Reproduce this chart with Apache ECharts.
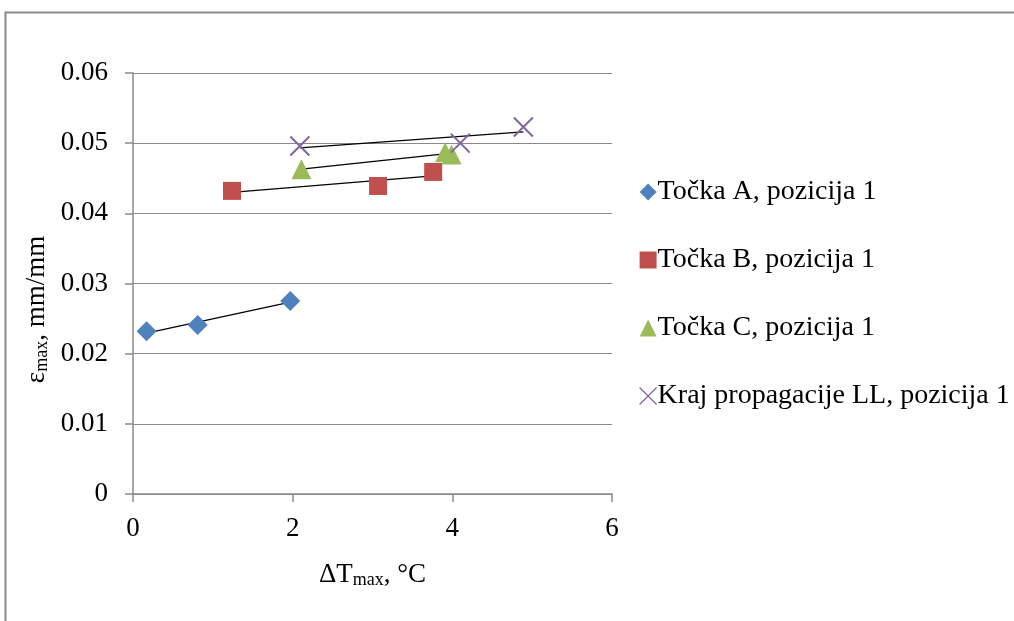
<!DOCTYPE html>
<html>
<head>
<meta charset="utf-8">
<script src="https://cdn.jsdelivr.net/npm/echarts@6/dist/echarts.min.js"></script>
<style>
  html, body { margin: 0; padding: 0; background: #fff; }
  #chart { width: 1014px; height: 621px; }
</style>
</head>
<body>
<div id="chart"></div>
<script>
// podaci ocitani sa slike
var seriesNames = ['Točka A, pozicija 1', 'Točka B, pozicija 1', 'Točka C, pozicija 1', 'Kraj propagacije LL, pozicija 1'];

var tockaA_x = [0.17, 0.81, 1.97];
var tockaA_y = [0.0232, 0.0241, 0.0275];

var tockaB_x = [1.24, 3.07, 3.76];
var tockaB_y = [0.0432, 0.0439, 0.0459];

var tockaC_x = [2.11, 3.91, 3.99];
var tockaC_y = [0.0463, 0.0487, 0.0484];

var krajLL_x = [2.09, 4.10, 4.89];
var krajLL_y = [0.0496, 0.0500, 0.0523];

var xTicks = [0, 2, 4, 6];
var yTicks = [0, 0.01, 0.02, 0.03, 0.04, 0.05, 0.06];

var colors = ['#4F81BD', '#C0504D', '#9BBB59', '#8064A2'];
var fontFam = "'Liberation Serif', 'Times New Roman', serif";
var crossPath = 'path://M0,0L10,10M10,0L0,10';

function pairs(xs, ys) {
  return xs.map(function (x, i) { return [x, ys[i]]; });
}

/** linearni trend (najmanji kvadrati) izmedju min i max x */
function trendLine(xs, ys) {
  var n = xs.length, sx = 0, sy = 0, sxy = 0, sxx = 0;
  for (var i = 0; i < n; i++) {
    sx += xs[i]; sy += ys[i]; sxy += xs[i] * ys[i]; sxx += xs[i] * xs[i];
  }
  var b = (n * sxy - sx * sy) / (n * sxx - sx * sx);
  var a = (sy - b * sx) / n;
  var x0 = Math.min.apply(null, xs), x1 = Math.max.apply(null, xs);
  return [[x0, a + b * x0], [x1, a + b * x1]];
}

var allX = [tockaA_x, tockaB_x, tockaC_x, krajLL_x];
var allY = [tockaA_y, tockaB_y, tockaC_y, krajLL_y];
var symbols = ['diamond', 'rect', 'triangle', crossPath];
var sizes = [20, 18, 20, 19];

var series = [];
// trend linije ispod markera
allX.forEach(function (xs, i) {
  series.push({
    type: 'line',
    data: trendLine(xs, allY[i]),
    showSymbol: false,
    silent: true,
    lineStyle: { color: '#000', width: 1.2 },
    z: 1
  });
});
allX.forEach(function (xs, i) {
  var isCross = i === 3;
  series.push({
    name: seriesNames[i],
    type: 'scatter',
    data: pairs(xs, allY[i]),
    symbol: symbols[i],
    symbolSize: sizes[i],
    itemStyle: isCross
      ? { color: 'rgba(0,0,0,0)', borderColor: colors[i], borderWidth: 2, opacity: 1 }
      : { color: colors[i], opacity: 1 },
    z: 3
  });
});

var chart = echarts.init(document.getElementById('chart'));
chart.setOption({
  animation: false,
  backgroundColor: '#fff',
  graphic: [{
    type: 'rect',
    left: 3, top: 10,
    shape: { width: 1200, height: 800 },
    style: { fill: 'none', stroke: '#8a8a8a', lineWidth: 2 },
    silent: true
  }],
  grid: { left: 133, right: 402, top: 73, bottom: 127, containLabel: false },
  legend: {
    orient: 'vertical',
    left: 634, top: 173,
    itemGap: 40,
    itemWidth: 17, itemHeight: 17,
    data: seriesNames.map(function (n, i) {
      return i === 3
        ? { name: n, icon: crossPath, itemStyle: { color: 'rgba(0,0,0,0)', borderColor: colors[3], borderWidth: 1.2 } }
        : { name: n, icon: symbols[i], itemStyle: { opacity: 1 } };
    }),
    textStyle: { fontFamily: fontFam, fontSize: 28, color: '#000', padding: [0, 0, 0, -4] }
  },
  xAxis: {
    type: 'value',
    min: xTicks[0], max: xTicks[xTicks.length - 1], interval: 2,
    splitLine: { show: false },
    axisLine: { lineStyle: { color: '#8a8a8a', width: 1.5 } },
    axisTick: { show: true, length: 8, lineStyle: { color: '#8a8a8a', width: 1.5 } },
    axisLabel: { fontFamily: fontFam, fontSize: 27, color: '#000', margin: 21 },
    name: 'ΔT{sub|max}, °C',
    nameLocation: 'middle',
    nameGap: 66,
    nameTextStyle: {
      fontFamily: fontFam, fontSize: 27, color: '#000',
      rich: { sub: { fontFamily: fontFam, fontSize: 18, color: '#000', verticalAlign: 'bottom', padding: [11, 0, 0, 0] } }
    }
  },
  yAxis: {
    type: 'value',
    min: yTicks[0], max: yTicks[yTicks.length - 1], interval: 0.01,
    splitLine: { show: true, lineStyle: { color: '#8a8a8a', width: 1.2 } },
    axisLine: { show: true, lineStyle: { color: '#8a8a8a', width: 1.5 } },
    axisTick: { show: true, length: 8, lineStyle: { color: '#8a8a8a', width: 1.5 } },
    axisLabel: {
      fontFamily: fontFam, fontSize: 27, color: '#000', margin: 25,
      formatter: function (v) { return v === 0 ? '0' : v.toFixed(2); }
    },
    name: 'ε{sub|max}, mm/mm',
    nameLocation: 'middle',
    nameRotate: 90,
    nameGap: 82,
    nameTextStyle: {
      fontFamily: fontFam, fontSize: 27, color: '#000', padding: [0, 52, 0, 0],
      rich: { sub: { fontFamily: fontFam, fontSize: 18, color: '#000', verticalAlign: 'bottom', padding: [11, 0, 0, 0] } }
    }
  },
  series: series
});
</script>
</body>
</html>
